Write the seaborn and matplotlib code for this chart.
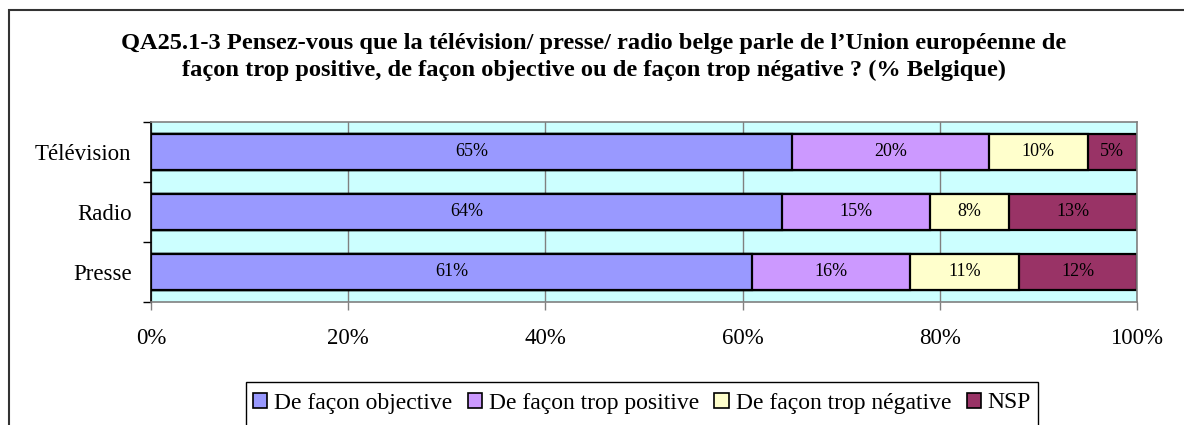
import pandas as pd
import seaborn as sns
import matplotlib.pyplot as plt
from matplotlib.patches import Rectangle, Patch

# data (% Belgique)
media = ['Télévision', 'Radio', 'Presse']
answers = ['De façon objective', 'De façon trop positive', 'De façon trop négative', 'NSP']
objective = [65, 64, 61]
trop_positive = [20, 15, 16]
trop_negative = [10, 8, 11]
nsp = [5, 13, 12]
colors = ['#9999FF', '#CC99FF', '#FFFFCC', '#993366']
x_ticks = [0, 20, 40, 60, 80, 100]
x_labels = ['0%', '20%', '40%', '60%', '80%', '100%']

title = ("QA25.1-3 Pensez-vous que la télévision/ presse/ radio belge parle de l\u2019Union européenne de\n"
         "façon trop positive, de façon objective ou de façon trop négative ? (% Belgique)")

df = pd.DataFrame({'media': media,
                   answers[0]: objective,
                   answers[1]: trop_positive,
                   answers[2]: trop_negative,
                   answers[3]: nsp})
cum = df[answers].cumsum(axis=1)

sns.set_style('white')
plt.rcParams['font.family'] = ['Liberation Serif', 'DejaVu Serif']
plt.rcParams['text.color'] = 'black'
plt.rcParams['xtick.labelcolor'] = 'black'
plt.rcParams['ytick.labelcolor'] = 'black'

W, H = 1184, 425
fig = plt.figure(figsize=(W / 100, H / 100), dpi=100)
ax = fig.add_axes([151 / W, 1 - 302 / H, 986 / W, 180 / H])
ax.set_facecolor('#CCFFFF')

# stacked bars: draw cumulative totals from the largest down
for ans, col in reversed(list(zip(answers, colors))):
    sns.barplot(x=cum[ans], y=df['media'], order=media, color=col, saturation=1,
                edgecolor='black', linewidth=1.6, width=0.6, orient='h', ax=ax)

# segment labels
for ans in answers:
    for i, m in enumerate(media):
        v = df.loc[i, ans]
        ax.text(cum.loc[i, ans] - v / 2, i, f'{v}%', ha='center', va='center',
                fontsize=13, color='black')

ax.set_xlim(0, 100)
ax.set_ylim(2.5, -0.5)
ax.set_xticks(x_ticks)
ax.set_xticklabels(x_labels, fontsize=16.5)
ax.set_yticks(range(len(media)))
ax.set_yticklabels(media, fontsize=16.5)
ax.set_yticks([-0.5, 0.5, 1.5, 2.5], minor=True)
ax.set_xlabel('')
ax.set_ylabel('')

ax.tick_params(axis='x', which='major', direction='out', length=6, width=1,
               color='#808080', labelcolor='black', pad=13, bottom=True)
ax.tick_params(axis='y', which='major', length=0, pad=14, left=True,
               labelcolor='black')
ax.tick_params(axis='y', which='minor', direction='out', length=6, width=1,
               color='black', left=True)

ax.set_axisbelow(True)
ax.grid(axis='x', color='#808080', linewidth=1)
ax.grid(axis='y', visible=False)
for side in ['top', 'right', 'bottom']:
    ax.spines[side].set_color('#808080')
    ax.spines[side].set_linewidth(1.2)
ax.spines['left'].set_color('black')
ax.spines['left'].set_linewidth(1.2)

# title
fig.text(594 / W, 1 - 57 / H, title, ha='center', va='center', fontsize=17.6,
         fontweight='bold', linespacing=1.4, color='black')

# legend
handles = [Patch(facecolor=c, edgecolor='black', linewidth=1.2) for c in colors]
leg = fig.legend(handles, answers, loc='center', bbox_to_anchor=(642 / W, 1 - 403 / H),
                 ncol=4, frameon=False, fontsize=17, handlelength=0.6, handleheight=0.6,
                 handletextpad=0.3, columnspacing=0.65, labelcolor='black')
fig.patches.append(Rectangle((246 / W, -0.2), (1038 - 246) / W, 0.2 + 1 - 382 / H,
                             transform=fig.transFigure, fill=False,
                             edgecolor='black', linewidth=1))

# outer chart frame
fig.patches.append(Rectangle((9 / W, -0.2), 1.2, 0.2 + 1 - 10 / H,
                             transform=fig.transFigure, fill=False,
                             edgecolor='#333333', linewidth=1.5))

fig.savefig('out.png', dpi=100)
